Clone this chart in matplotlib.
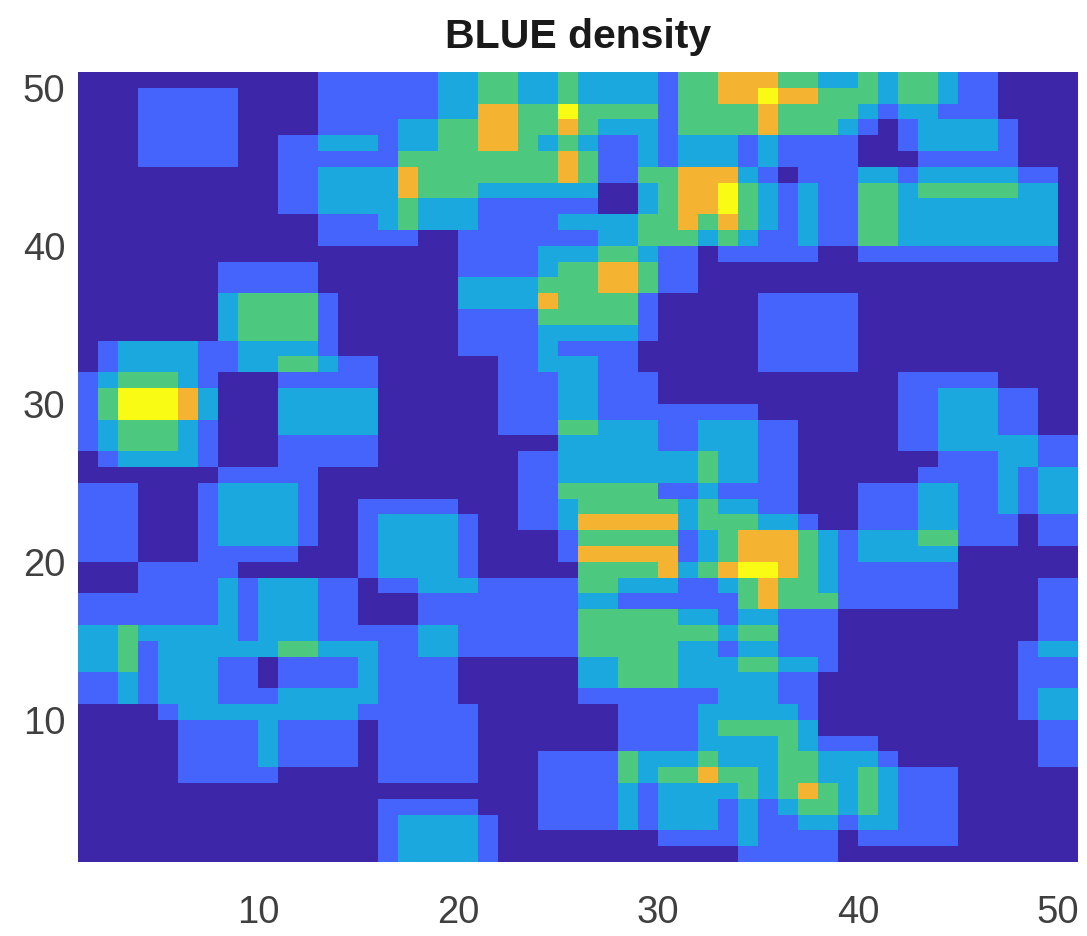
import numpy as np
import matplotlib
matplotlib.use('Agg')
import matplotlib.pyplot as plt
from matplotlib.colors import ListedColormap

# density levels, top row (y=50) first
# columns 1-17
left_rows = [
    '00000000000011111', '00011111000011111', '00011111000011111', '00011111000011112',
    '00011111001122212', '00011111001111113', '00000000001122224', '00000000001122224',
    '00000000001122223', '00000000000011123', '00000000000011111', '00000000000000000',
    '00000001111100000', '00000001111100000', '00000002333310000', '00000002333310000',
    '00000002333310000', '01222211222210000', '01222211223321100', '12333210001111100',
    '13555420002222200', '13555420002222200', '12333210002222200', '12333210001111100',
    '01222210001111100', '00000001111100000', '11100012222100000', '11100012222100111',
    '11100012222100122', '11100012222100122', '11100011111000122', '00011111000000122',
    '00011112122211011', '11111112122211000', '11111112122211000', '22322222122211111',
    '22312222223322211', '22312221101111211', '11212221101111211', '11212221112222211',
    '00001222222222111', '00000111121111011', '00000111121111011', '00000111121111011',
    '00000111110000011', '00000000000000000', '00000000000000011', '00000000000000012',
    '00000000000000012', '00000000000000012',
]
# columns 18-33
mid_rows = [
    '1223322322221334', '1223322322221334', '1224433533331333', '2334433432221333',
    '2334432321121222', '3333333431121222', '3333333431133444', '3332222220023445',
    '2221111110023445', '2221111222233434', '0011111112233323', '0011112223321101',
    '0011112334431100', '0022223334431100', '0022224333310000', '0011113333310000',
    '0011112222210000', '0011112111100000', '0000112221100000', '0000111221110000',
    '0000111221110000', '0000111221111111', '0000111332221122', '0000000222221122',
    '0000011222222232', '0000011222222232', '0000011333331121', '1100011233333232',
    '2210011244444233', '2210000133333123', '2210000144444123', '2210000033334234',
    '2221111133222112', '1111111122111111', '1111111133333221', '2211111133333332',
    '2211111133333221', '1100000022333222', '1100000022333222', '1100000011111112',
    '1110000000111122', '1110000000111123', '1110000000111122', '1110001111322232',
    '1110001111323343', '0000001111212222', '1110001111212221', '2221001111212221',
    '2221000000001111', '2221000000000000',
]
# columns 34-50
right_rows = [
    '44332232332110000', '45443332332110000', '34333321221110000', '34333210122221000',
    '12111100122221000', '12111100011111000', '21011122122222110', '32121133233333220',
    '32121133222222220', '32121133222222220', '21121133222222220', '11110011111111110',
    '00000000000000000', '00000000000000000', '01111100000000000', '01111100000000000',
    '01111100000000000', '01111100000000000', '01111100000000000', '00000000111110000',
    '00000000112221100', '10000000112221100', '21100000112221100', '21100000112222211',
    '21100000001112211', '21100000011112122', '11100011122112122', '21100011122112122',
    '32210011122111011', '44432122233111011', '44432122222000000', '55432111111000000',
    '34332111111000011', '34333111111000011', '22111000000000011', '33111000000000011',
    '22111000000000122', '33221000000000111', '22110000000000111', '22110000000000122',
    '22210000000000122', '33320000000000011', '22321110000000011', '22332221000000011',
    '32332232111000000', '32343232111000000', '21233232111000000', '21122122111000000',
    '21111011111000000', '11111000000000000',
]
ticks = [10, 20, 30, 40, 50]
level_colors = ['#3E26A8', '#4564FB', '#1BA8DE', '#4CC97E', '#F5B332', '#F9FB15']

plt.rcParams['font.family'] = ['Liberation Sans', 'DejaVu Sans']

density = np.array([[int(ch) for ch in l + m + r]
                    for l, m, r in zip(left_rows, mid_rows, right_rows)])[::-1]
edges = np.arange(1, 52)

fig = plt.figure(figsize=(10.87, 9.36), dpi=100)
ax = fig.add_axes([78 / 1087, 74 / 936, 1000 / 1087, 790 / 936])
ax.pcolormesh(edges, edges, density, cmap=ListedColormap(level_colors), vmin=-0.5, vmax=5.5)
ax.set_xticks(ticks)
ax.set_yticks(ticks)
ax.tick_params(length=0, labelsize=27.5, labelcolor='#404040')
ax.tick_params(axis='x', pad=24)
ax.tick_params(axis='y', pad=9)
for side in ax.spines.values():
    side.set_visible(False)
ax.set_title('BLUE density', fontsize=29.5, fontweight='bold', color='#1a1a1a', pad=17)

fig.savefig('out.png', dpi=100)
